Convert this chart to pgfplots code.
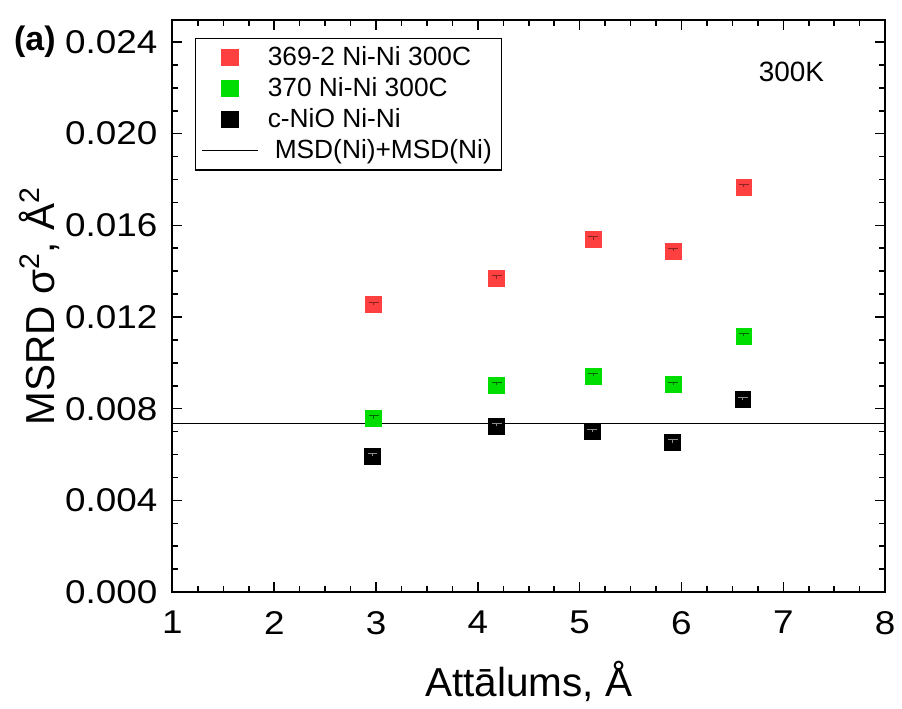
\documentclass[border=0pt]{standalone}
\usepackage{fontspec}
\setmainfont{Liberation Sans}
\newfontfamily\tickfont{Liberation Sans}[FakeStretch=1.12]
\usepackage{pgfplots}
\pgfplotsset{compat=1.18}
\usepackage{pgfplotstable}
\definecolor{ptred}{RGB}{255,64,64}
\definecolor{ptgreen}{RGB}{0,221,0}

% distance (A) vs MSRD (A^2), small error
\pgfplotstableread{
x      y        e
2.978  0.01253  0.00012
4.185  0.01367  0.00012
5.135  0.01538  0.00012
5.918  0.01486  0.00012
6.613  0.01767  0.00012
}\redtab
\pgfplotstableread{
x      y        e
2.978  0.00757  0.00012
4.185  0.00903  0.00012
5.135  0.00942  0.00012
5.918  0.00904  0.00012
6.613  0.01117  0.00012
}\greentab
\pgfplotstableread{
x      y        e
2.965  0.00593  0.00012
4.185  0.00723  0.00012
5.122  0.00699  0.00012
5.912  0.00652  0.00012
6.603  0.00839  0.00012
}\blacktab

\begin{document}
\begin{tikzpicture}
\begin{axis}[
    name=main,
    scale only axis, width=357.5pt, height=287pt,
    xmin=1, xmax=8, ymin=0, ymax=0.02496,
    clip=false, clip marker paths=true,
    xtick={1,2,...,8}, ytick={0,0.004,0.008,0.012,0.016,0.020,0.024},
    minor x tick num=3, minor y tick num=3,
    tick align=inside, major tick length=5pt, minor tick length=3pt,
    axis line style={line width=1pt},
    every tick/.style={black, line width=0.8pt},
    scaled y ticks=false,
    /pgf/number format/assume math mode=true,
    tick label style={font=\tickfont\fontsize{16.5}{20}\selectfont},
    yticklabel style={xshift=-4pt, /pgf/number format/.cd, fixed, fixed zerofill, precision=3},
    xticklabel style={yshift=-6pt},
    xlabel={Attālums, Å},
    ylabel={MSRD σ\textsuperscript{2}, Å\textsuperscript{2}},
    label style={font=\fontsize{20.3}{24}\selectfont},
    xlabel style={at={(rel axis cs:0.5,-0.157)}, anchor=center},
    ylabel style={at={(rel axis cs:-0.186,0.5)}, anchor=center},
    legend style={at={(rel axis cs:0.031,0.968)}, anchor=north west,
        font=\fontsize{13.2}{16}\selectfont, draw=black, line width=0.6pt,
        row sep=0.5pt, inner xsep=3pt},
    legend cell align=left,
    legend image code/.code={\draw[mark repeat=2,mark phase=2,#1]
        plot coordinates {(0cm,0cm) (0.5cm,0cm) (1cm,0cm)};},
]
\addplot[forget plot, black, line width=0.5pt] coordinates {(1,0.00735) (8,0.00735)};

\addplot[only marks, mark=square*, mark size=4pt, color=ptred] table[x=x,y=y] {\redtab};
\addlegendentry{\hspace{2.5pt}369-2 Ni-Ni 300C}
\addplot[only marks, mark=square*, mark size=4pt, color=ptgreen] table[x=x,y=y] {\greentab};
\addlegendentry{\hspace{2.5pt}370 Ni-Ni 300C}
\addplot[only marks, mark=square*, mark size=4pt, color=black] table[x=x,y=y] {\blacktab};
\addlegendentry{\hspace{2.5pt}c-NiO Ni-Ni}
\addlegendimage{black, line width=0.5pt}
\addlegendentry{\hspace{6pt}MSD(Ni)+MSD(Ni)}

% error bars drawn over the squares
\addplot[forget plot, only marks, mark=text, text mark={}, ptred!55!black,
    error bars/.cd, y dir=plus, y explicit,
    error mark options={rotate=90, mark size=2.5pt, line width=0.5pt, ptred!55!black},
    error bar style={line width=0.5pt, ptred!55!black}]
    table[x=x,y=y,y error=e] {\redtab};
\addplot[forget plot, only marks, mark=text, text mark={}, ptgreen!45!black,
    error bars/.cd, y dir=plus, y explicit,
    error mark options={rotate=90, mark size=2.5pt, line width=0.5pt, ptgreen!45!black},
    error bar style={line width=0.5pt, ptgreen!45!black}]
    table[x=x,y=y,y error=e] {\greentab};
\addplot[forget plot, only marks, mark=text, text mark={}, black!45,
    error bars/.cd, y dir=plus, y explicit,
    error mark options={rotate=90, mark size=2.5pt, line width=0.5pt, black!45},
    error bar style={line width=0.5pt, black!45}]
    table[x=x,y=y,y error=e] {\blacktab};

\node[font=\fontsize{14}{16}\selectfont] at (axis cs:7.08,0.0227) {300K};
\node[font=\bfseries\fontsize{17}{20}\selectfont] at (rel axis cs:-0.193,0.962) {(a)};
\end{axis}
\path ([xshift=-86.5pt,yshift=-56pt]main.south west) rectangle ([xshift=7pt,yshift=10pt]main.north east);
\end{tikzpicture}
\end{document}
